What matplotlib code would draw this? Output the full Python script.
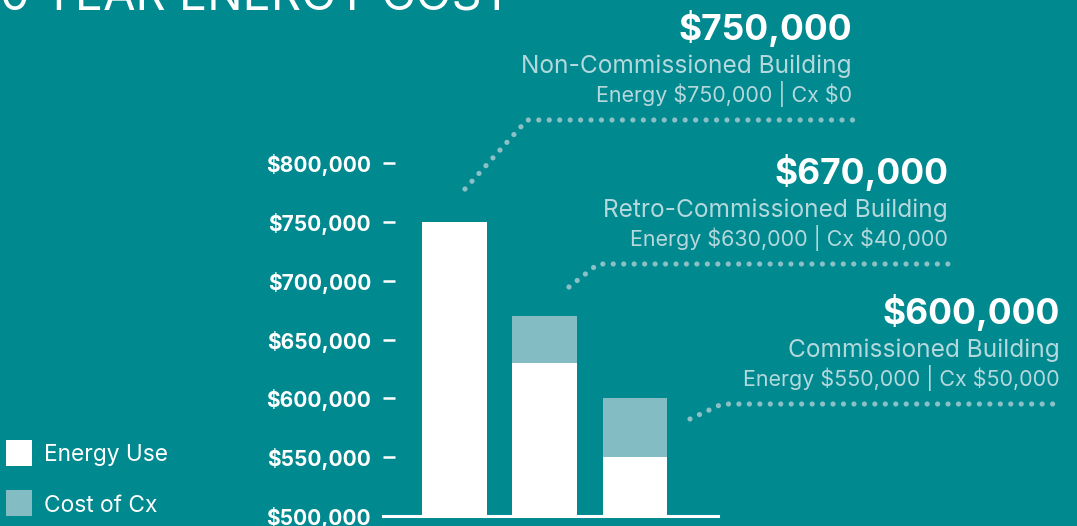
import matplotlib
matplotlib.use("Agg")
import matplotlib.pyplot as plt
import matplotlib.transforms as mtransforms
from matplotlib.lines import Line2D
from matplotlib.patches import Rectangle

# ---------------- data ----------------
categories = ["Non-Commissioned Building", "Retro-Commissioned Building", "Commissioned Building"]
energy_use = [750000, 630000, 550000]
cost_cx = [0, 40000, 50000]
totals = [750000, 670000, 600000]
yticks = [500000, 550000, 600000, 650000, 700000, 750000, 800000]
ytick_labels = ["$500,000", "$550,000", "$600,000", "$650,000", "$700,000", "$750,000", "$800,000"]
legend_labels = ["Energy Use", "Cost of Cx"]
title = "10 YEAR ENERGY COST"

# ---------------- style ----------------
plt.rcParams["text.parse_math"] = False
FONT = ["Inter", "DejaVu Sans"]
plt.rcParams["font.family"] = FONT

W, H = 1077, 526
BG = "#00898F"
CX = "#84BCC4"
SUB = "#B5D8DC"
DOT = "#8AC0C6"

fig = plt.figure(figsize=(W / 100, H / 100), dpi=100, facecolor=BG)
PX = mtransforms.Affine2D().scale(1, -1).translate(0, H)  # pixel coords, origin top-left

ax_l, ax_r, ax_b, ax_t = 383, 718, 516, 163
ax = fig.add_axes([ax_l / W, (H - ax_b) / H, (ax_r - ax_l) / W, (ax_b - ax_t) / H])
ax.set_facecolor(BG)

x = list(range(len(categories)))
bw = 0.718
ax.bar(x, energy_use, width=bw, color="white", zorder=2)
ax.bar(x, cost_cx, width=bw, bottom=energy_use, color=CX, zorder=2)
ax.set_ylim(500000, 800000)
ax.set_xlim(-0.79, 2.92)

ax.set_yticks(yticks)
ax.set_yticklabels(ytick_labels, fontsize=14.4, fontweight="bold", color="white")
ax.tick_params(axis="y", direction="in", length=8.6, width=1.8, color="white", pad=8.6)
ax.set_xticks([])
for s in ["left", "right", "top"]:
    ax.spines[s].set_visible(False)
ax.spines["bottom"].set_color("white")
ax.spines["bottom"].set_linewidth(2.2)

renderer = fig.canvas.get_renderer()


def fit(t, target_w):
    for _ in range(3):
        bb = t.get_window_extent(renderer)
        t.set_fontsize(t.get_fontsize() * target_w / bb.width)
    return t.get_fontsize()


p_t = fig.text(0, 0, "$800,000", transform=PX, fontweight="bold", fontsize=14)
f_tick = fit(p_t, 105); p_t.remove()
for lbl in ax.get_yticklabels():
    lbl.set_clip_on(False)
    lbl.set_fontsize(f_tick)

# legend (drawn as figure patches + text)
p_leg = fig.text(0, 0, legend_labels[0], transform=PX, fontsize=15)
f_leg = fit(p_leg, 124); p_leg.remove()
for i, (lab, col) in enumerate(zip(legend_labels, ["white", CX])):
    top = 440 + 50 * i
    fig.add_artist(Rectangle((6, top), 26, 26, transform=PX, facecolor=col,
                             edgecolor="none"))
    fig.text(44, top + 13, lab, transform=PX, ha="left", va="center_baseline",
             color="white", fontsize=f_leg)

# title (cropped at top, as in the reference)
tt = fig.text(512, 10, title, transform=PX, ha="right", va="baseline",
              color="white", fontsize=30)
probe = fig.text(0, 0, "YEAR ENERGY COST", transform=PX, fontsize=30)
f_title = fit(probe, 469)
probe.remove()
tt.set_fontsize(f_title)

# annotation blocks
blocks = [
    dict(xr=852, ly=120, start=(465, 189), corner=(527, 120)),
    dict(xr=948, ly=264, start=(569, 287), corner=(598, 264)),
    dict(xr=1060, ly=404, start=(690, 419), corner=(722, 404)),
]

p_big = fig.text(0, 0, "$670,000", transform=PX, fontweight="bold", fontsize=24)
f_big = fit(p_big, 174); p_big.remove()
p_sub = fig.text(0, 0, "Retro-Commissioned Building", transform=PX, fontsize=16)
f_sub = fit(p_sub, 344); p_sub.remove()
p_en = fig.text(0, 0, "Energy $630,000 | Cx $40,000", transform=PX, fontsize=16)
f_en = fit(p_en, 319); p_en.remove()

for i, b in enumerate(blocks):
    xr, ly = b["xr"], b["ly"]
    fig.text(xr, ly - 80, f"${totals[i]:,}", transform=PX, ha="right", va="baseline",
             color="white", fontweight="bold", fontsize=f_big)
    fig.text(xr, ly - 47, categories[i], transform=PX, ha="right", va="baseline",
             color=SUB, fontsize=f_sub)
    fig.text(xr, ly - 18, f"Energy ${energy_use[i]:,} | Cx ${cost_cx[i]:,}", transform=PX,
             ha="right", va="baseline", color=SUB, fontsize=f_en)
    xs = [b["start"][0], b["corner"][0], xr + 3]
    ys = [b["start"][1], b["corner"][1], ly]
    fig.add_artist(Line2D(xs, ys, transform=PX, color=DOT, linewidth=3.8,
                          linestyle=(0, (0.001, 1.98)), dash_capstyle="round",
                          solid_joinstyle="round"))

fig.savefig("out.png", dpi=100, facecolor=BG)
